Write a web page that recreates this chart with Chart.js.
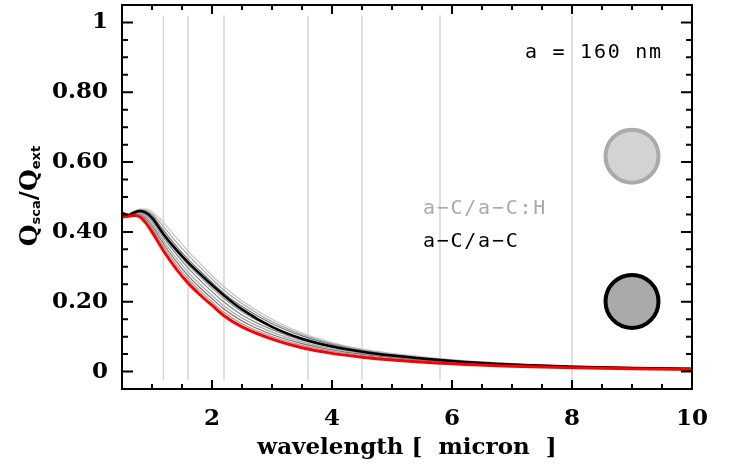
<!DOCTYPE html>
<html>
<head>
<meta charset="utf-8">
<script src="https://cdn.jsdelivr.net/npm/chart.js@4.4.1/dist/chart.umd.min.js"></script>
<style>
  html,body{margin:0;padding:0;background:#fff;}
  canvas{display:block;}
</style>
</head>
<body>
<canvas id="c" width="734" height="472" style="width:734px;height:472px"></canvas>
<script>
// ---- data ----
const wavelength = [0.5,0.6,0.7,0.8,0.9,1.0,1.2,1.4,1.6,1.8,2.0,2.2,2.5,3.0,3.5,4.0,4.5,5.0,6.0,7.0,8.0,9.0,10.0];

const redSeries   = [0.443,0.445,0.447,0.443,0.425,0.400,0.344,0.295,0.254,0.220,0.190,0.160,0.128,0.093,0.068,0.052,0.041,0.033,0.022,0.015,0.011,0.008,0.006];
const blackSeries = [0.455,0.448,0.455,0.460,0.455,0.440,0.392,0.350,0.313,0.280,0.248,0.218,0.178,0.128,0.094,0.072,0.057,0.046,0.030,0.020,0.014,0.010,0.008];

const grayA = [0.447,0.447,0.450,0.448,0.433,0.410,0.356,0.307,0.266,0.231,0.200,0.170,0.137,0.100,0.075,0.058,0.046,0.037,0.024,0.017,0.012,0.009,0.007];
const grayB = [0.449,0.448,0.452,0.451,0.438,0.417,0.364,0.316,0.275,0.240,0.209,0.179,0.145,0.106,0.080,0.062,0.049,0.040,0.026,0.018,0.013,0.010,0.007];
const grayC = [0.450,0.448,0.453,0.454,0.443,0.424,0.373,0.326,0.285,0.250,0.218,0.188,0.153,0.113,0.085,0.066,0.052,0.042,0.027,0.019,0.013,0.010,0.008];
const grayD = [0.451,0.448,0.454,0.457,0.448,0.431,0.382,0.337,0.297,0.262,0.229,0.199,0.162,0.120,0.090,0.070,0.055,0.045,0.029,0.020,0.014,0.010,0.008];
const grayE = [0.452,0.448,0.455,0.459,0.452,0.437,0.388,0.344,0.306,0.272,0.239,0.209,0.171,0.126,0.095,0.073,0.057,0.046,0.030,0.020,0.014,0.010,0.008];
const grayF = [0.452,0.449,0.457,0.462,0.459,0.447,0.403,0.360,0.322,0.288,0.255,0.224,0.186,0.137,0.102,0.077,0.060,0.048,0.031,0.021,0.015,0.011,0.008];
const grayG = [0.451,0.450,0.458,0.464,0.462,0.452,0.414,0.372,0.334,0.299,0.265,0.233,0.195,0.143,0.106,0.080,0.062,0.050,0.033,0.022,0.015,0.011,0.009];
const grayH = [0.450,0.452,0.460,0.465,0.465,0.458,0.425,0.385,0.345,0.310,0.275,0.243,0.203,0.150,0.110,0.083,0.064,0.052,0.034,0.023,0.016,0.012,0.009];

const bandLines = [1.19, 1.6, 2.2, 3.6, 4.5, 5.8, 8.0];
const xTickValues = [2, 4, 6, 8, 10];
const yTickValues = [0, 0.2, 0.4, 0.6, 0.8, 1];
const yTickLabels = ['0', '0.20', '0.40', '0.60', '0.80', '1'];

const circleHydro = {x: 9.0, y: 0.617};
const circleCarbon = {x: 9.0, y: 0.201};

const sizeLabel = 'a = 160 nm';
const legendHydro = 'a\u2212C/a\u2212C:H';
const legendCarbon = 'a\u2212C/a\u2212C';

// ---- build datasets ----
const toXY = arr => wavelength.map((w, i) => ({x: w, y: arr[i]}));
const curve = (arr, color, width) => ({
  type: 'line', data: toXY(arr), borderColor: color, borderWidth: width,
  pointRadius: 0, fill: false, cubicInterpolationMode: 'monotone'
});

const datasets = [];
datasets.push({type:'scatter', data:[circleHydro], pointRadius:26.5, borderWidth:4,
  backgroundColor:'#d3d3d3', borderColor:'#aaaaaa', pointHoverRadius:26.5});
datasets.push({type:'scatter', data:[circleCarbon], pointRadius:26.5, borderWidth:4,
  backgroundColor:'#aaaaaa', borderColor:'#000000', pointHoverRadius:26.5});
datasets.push(curve(redSeries, '#ff0000', 3));
datasets.push(curve(blackSeries, '#000000', 2.5));
const grays = [[grayA,'#999999'],[grayB,'#777777'],[grayC,'#aaaaaa'],[grayD,'#888888'],
               [grayE,'#999999'],[grayF,'#777777'],[grayG,'#aaaaaa'],[grayH,'#c4c4c4']];
grays.forEach(([arr, col]) => datasets.push(curve(arr, col, 1.2)));
bandLines.forEach(w => datasets.push({type:'line', data:[{x:w,y:-0.024},{x:w,y:1.02}],
  borderColor:'#d6d6d6', borderWidth:1.5, pointRadius:0}));

// ---- plugin: frame, inward ticks, annotations ----
const decor = {
  id: 'decor',
  afterDraw(chart) {
    const ctx = chart.ctx;
    const xs = chart.scales.x, ys = chart.scales.y;
    const a = chart.chartArea;
    ctx.save();
    ctx.strokeStyle = '#000';
    ctx.lineWidth = 2;
    ctx.lineCap = 'square';
    ctx.strokeRect(a.left, a.top, a.right - a.left, a.bottom - a.top);
    ctx.lineCap = 'butt';
    // x ticks (bottom and top)
    for (let v = 0.5; v <= 10.0001; v += 0.5) {
      const px = xs.getPixelForValue(v);
      const major = Math.abs(v / 2 - Math.round(v / 2)) < 1e-6;
      const len = major ? 9 : 5;
      ctx.beginPath();
      ctx.moveTo(px, a.bottom); ctx.lineTo(px, a.bottom - len);
      ctx.moveTo(px, a.top); ctx.lineTo(px, a.top + len);
      ctx.stroke();
    }
    // y ticks (left and right)
    for (let k = -1; k <= 21; k++) {
      const v = k * 0.05;
      const py = ys.getPixelForValue(v);
      const major = (k % 4 === 0);
      const len = major ? 11 : 6;
      ctx.beginPath();
      ctx.moveTo(a.left, py); ctx.lineTo(a.left + len, py);
      ctx.moveTo(a.right, py); ctx.lineTo(a.right - len, py);
      ctx.stroke();
    }
    // annotation texts (monospaced, spaced)
    const spaced = (txt, x, y, color, align) => {
      ctx.font = '20px "DejaVu Sans Mono"';
      ctx.fillStyle = color;
      ctx.textBaseline = 'middle';
      ctx.textAlign = 'center';
      const adv = 13.8;
      const total = adv * txt.length;
      let start = align === 'right' ? x - total : x;
      for (let i = 0; i < txt.length; i++) {
        ctx.fillText(txt[i], start + adv * (i + 0.5), y);
      }
    };
    spaced(sizeLabel, xs.getPixelForValue(9.5), ys.getPixelForValue(0.914), '#000', 'right');
    spaced(legendHydro, xs.getPixelForValue(5.5), ys.getPixelForValue(0.467), '#aaaaaa', 'left');
    spaced(legendCarbon, xs.getPixelForValue(5.5), ys.getPixelForValue(0.372), '#000', 'left');

    // y title Q_sca / Q_ext rotated
    ctx.translate(37, 196);
    ctx.rotate(-Math.PI / 2);
    ctx.fillStyle = '#000';
    ctx.textAlign = 'left';
    ctx.textBaseline = 'alphabetic';
    const big = 'bold 25px "DejaVu Serif"', small = 'bold 13px "DejaVu Sans"';
    const parts = [['Q', big, 0], ['sca', small, 3], ['/', big, 0], ['Q', big, 0], ['ext', small, 3]];
    let tw = 0;
    parts.forEach(p => { ctx.font = p[1]; tw += ctx.measureText(p[0]).width; });
    let cx = -tw / 2;
    parts.forEach(p => { ctx.font = p[1]; ctx.fillText(p[0], cx, p[2]); cx += ctx.measureText(p[0]).width; });
    ctx.restore();
  }
};

const tickFont = {family: 'DejaVu Serif', weight: 'bold', size: 23};

new Chart(document.getElementById('c'), {
  data: {datasets},
  options: {
    responsive: false,
    animation: false,
    events: [],
    layout: {autoPadding: false, padding: {left: 0, right: 42, top: 5, bottom: 0}},
    plugins: {legend: {display: false}, tooltip: {enabled: false}},
    scales: {
      x: {
        type: 'linear', min: 0.5, max: 10,
        afterBuildTicks: s => { s.ticks = xTickValues.map(v => ({value: v})); },
        ticks: {font: tickFont, color: '#000', padding: 16, maxRotation: 0, autoSkip: false,
                callback: v => String(v)},
        grid: {display: false, drawTicks: false},
        border: {display: false},
        title: {display: true, text: 'wavelength [  micron  ]', color: '#000',
                font: {family: 'DejaVu Serif', weight: 'bold', size: 23}, padding: {top: 0, bottom: 10}},
        afterFit: s => { s.height = 83; s.paddingLeft = 0; s.paddingRight = 0; }
      },
      y: {
        type: 'linear', min: -0.05, max: 1.05,
        afterBuildTicks: s => { s.ticks = yTickValues.map(v => ({value: v})); },
        ticks: {font: tickFont, color: '#000', padding: 14, autoSkip: false,
                callback: (v) => { const i = yTickValues.findIndex(t => Math.abs(t - v) < 1e-9); return i >= 0 ? yTickLabels[i] : ''; }},
        grid: {display: false, drawTicks: false},
        border: {display: false},
        afterFit: s => { s.width = 122; s.paddingTop = 0; s.paddingBottom = 0; }
      }
    }
  },
  plugins: [decor]
});
</script>
</body>
</html>
